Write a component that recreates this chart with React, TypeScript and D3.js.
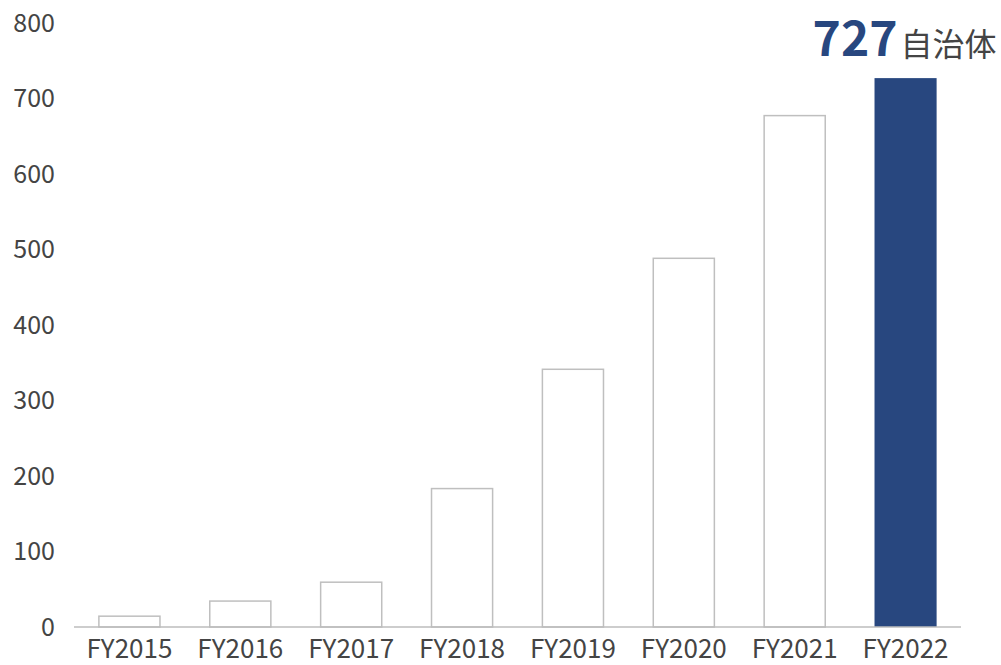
import React from "react";
import * as d3 from "d3";

const categories = ["FY2015", "FY2016", "FY2017", "FY2018", "FY2019", "FY2020", "FY2021", "FY2022"];
const values = [15, 35, 60, 184, 342, 489, 678, 727];
const yTicks = [0, 100, 200, 300, 400, 500, 600, 700, 800];
const highlightLabel = "727";
const unitLabel = "自治体";

const W = 1001;
const H = 665;
const FONT = "'Noto Sans CJK JP', 'Noto Sans', sans-serif";

export default function App() {
  const x = d3.scaleBand<string>().domain(categories).range([74, 961]).paddingInner(0.44).paddingOuter(0.22);
  const y = d3.scaleLinear().domain([0, 800]).range([627, 23]);
  const last = categories.length - 1;
  const lx = x(categories[last])! + x.bandwidth() / 2;
  return (
    <svg width={W} height={H} style={{ position: "absolute", left: 0, top: 0, background: "#fff" }}>
      {yTicks.map((t) => (
        <text key={t} x={55} y={y(t)} dy="0.35em" textAnchor="end" fontFamily={FONT} fontSize={25} fill="#444">
          {t}
        </text>
      ))}
      {values.map((v, i) => {
        const hl = i === last;
        return (
          <rect
            key={categories[i]}
            x={x(categories[i])! + (hl ? 0 : 0.5)}
            y={y(v) + (hl ? 0 : 0.5)}
            width={x.bandwidth() - (hl ? 0 : 1)}
            height={y(0) - y(v) - (hl ? 0 : 0.5)}
            fill={hl ? "#28477f" : "#fff"}
            stroke={hl ? "none" : "#bfbfbf"}
            strokeWidth={1.5}
          />
        );
      })}
      <line x1={74} x2={961} y1={y(0)} y2={y(0)} stroke="#bdbdbd" strokeWidth={1.5} />
      {categories.map((c) => (
        <text key={c} x={x(c)! + x.bandwidth() / 2} y={658} textAnchor="middle" fontFamily={FONT} fontSize={26} fill="#444">
          {c}
        </text>
      ))}
      <text x={lx - 8} y={56} textAnchor="end" fontFamily={FONT} fontSize={48} fontWeight={700} fill="#28477f">
        {highlightLabel}
      </text>
      <text x={lx - 5} y={56} textAnchor="start" fontFamily={FONT} fontSize={32} fill="#444">
        {unitLabel}
      </text>
    </svg>
  );
}
